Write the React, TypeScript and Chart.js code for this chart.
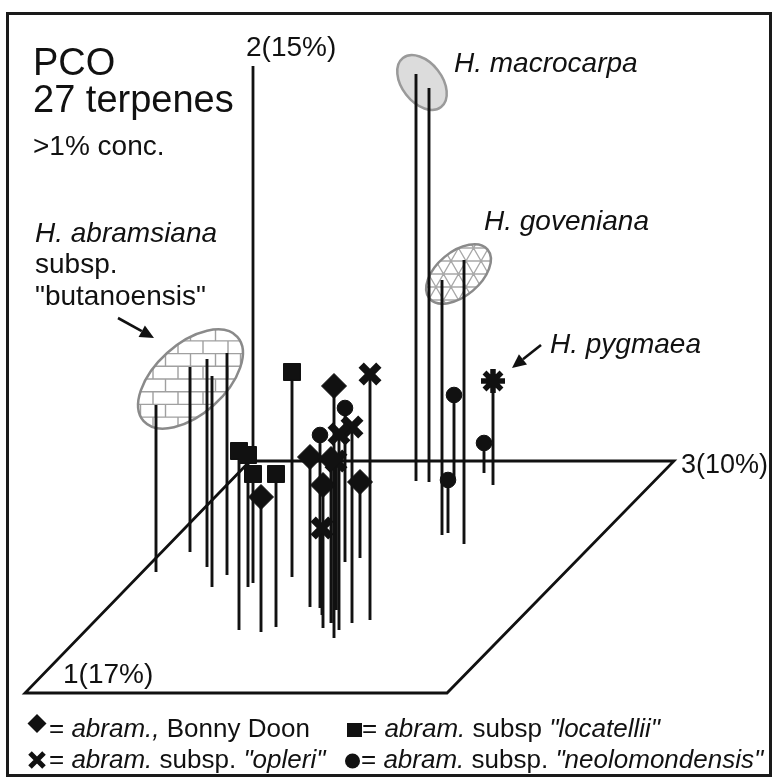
import React, { useEffect, useRef } from 'react';
import { Chart, registerables } from 'chart.js';

Chart.register(...registerables);

const W = 773;
const H = 777;

// Specimens in the projected PCO space: [x, top (marker height), floor]
const bonnyDoon: number[][] = [
  [261, 497, 632],
  [310, 457, 607],
  [331, 459, 623],
  [323, 485, 628],
  [334, 386, 638],
  [360, 482, 558],
];
const locatellii: number[][] = [
  [239, 451, 630],
  [248, 455, 587],
  [253, 474, 583],
  [276, 474, 627],
  [292, 372, 577],
];
const opleri: number[][] = [
  [370, 374, 620],
  [352, 427, 623],
  [339, 434, 630],
  [336, 461, 610],
  [322, 528, 615],
];
const neolomondensis: number[][] = [
  [320, 435, 608],
  [345, 408, 562],
  [448, 480, 533],
  [454, 395, 477],
  [484, 443, 473],
];
const pygmaea: number[][] = [[493, 381, 485]];
const butanoensis: number[][] = [
  [156, 405, 572],
  [190, 367, 552],
  [207, 359, 567],
  [212, 376, 587],
  [227, 353, 575],
];
const macrocarpa: number[][] = [
  [416, 74, 481],
  [429, 88, 482],
];
const goveniana: number[][] = [
  [442, 280, 535],
  [464, 260, 544],
];

// floor plane (axes 1 and 3) and vertical axis 2
const planeCorners: number[][] = [
  [250, 461],
  [674, 461],
  [447, 693],
  [25, 693],
  [250, 461],
];
const axis2: number[][] = [
  [253, 66],
  [253, 461],
];

// species cluster outlines: [cx, cy, rx, ry, rotationDeg]
const ellipseButanoensis = [190.5, 379, 63, 35, -42];
const ellipseGoveniana = [458.5, 274, 38, 22, -40];
const ellipseMacrocarpa = [422, 82.5, 31, 20, 52];

const FONT = '"Liberation Sans", Arial, Helvetica, sans-serif';

function stemData(arr: number[][]) {
  const out: any[] = [];
  for (const [x, top, base] of arr) {
    out.push({ x, y: top }, { x, y: base }, { x, y: null });
  }
  return out;
}
function markerData(arr: number[][]) {
  return arr.map(([x, top]) => ({ x, y: top }));
}

type Run = [string, boolean];

function drawRuns(ctx: CanvasRenderingContext2D, x: number, y: number, size: number, runs: Run[]) {
  let cx = x;
  for (const [t, it] of runs) {
    ctx.font = `${it ? 'italic ' : ''}${size}px ${FONT}`;
    ctx.fillText(t, cx, y);
    cx += ctx.measureText(t).width;
  }
}

function arrow(ctx: CanvasRenderingContext2D, x1: number, y1: number, x2: number, y2: number) {
  const ang = Math.atan2(y2 - y1, x2 - x1);
  const hl = 14;
  const hw = 6.5;
  const bx = x2 - hl * Math.cos(ang);
  const by = y2 - hl * Math.sin(ang);
  ctx.beginPath();
  ctx.moveTo(x1, y1);
  ctx.lineTo(bx, by);
  ctx.lineWidth = 2.6;
  ctx.strokeStyle = '#111';
  ctx.stroke();
  ctx.beginPath();
  ctx.moveTo(x2, y2);
  ctx.lineTo(bx + hw * Math.sin(ang), by - hw * Math.cos(ang));
  ctx.lineTo(bx - hw * Math.sin(ang), by + hw * Math.cos(ang));
  ctx.closePath();
  ctx.fillStyle = '#111';
  ctx.fill();
}

const figurePlugin = {
  id: 'figure',
  beforeDatasetsDraw(chart: any) {
    const ctx: CanvasRenderingContext2D = chart.ctx;
    const xs = chart.scales.x;
    const ys = chart.scales.y;
    const px = (v: number) => xs.getPixelForValue(v);
    const py = (v: number) => ys.getPixelForValue(v);
    const sx = (v: number) => px(v) - px(0);
    const sy = (v: number) => py(v) - py(0);

    const ellipsePath = (e: number[]) => {
      ctx.beginPath();
      ctx.ellipse(px(e[0]), py(e[1]), Math.abs(sx(e[2])), Math.abs(sy(e[3])), (e[4] * Math.PI) / 180, 0, Math.PI * 2);
    };

    // macrocarpa: plain grey fill
    ctx.save();
    ellipsePath(ellipseMacrocarpa);
    ctx.fillStyle = '#dcdcdc';
    ctx.fill();
    ctx.lineWidth = 2.5;
    ctx.strokeStyle = '#9a9a9a';
    ctx.stroke();
    ctx.restore();

    // butanoensis: brick fill
    ctx.save();
    ellipsePath(ellipseButanoensis);
    ctx.fillStyle = '#fff';
    ctx.fill();
    ctx.clip();
    {
      const cx = px(ellipseButanoensis[0]);
      const cy = py(ellipseButanoensis[1]);
      ctx.strokeStyle = '#a0a0a0';
      ctx.lineWidth = 1.4;
      const bh = 12.7;
      const bw = 25;
      ctx.beginPath();
      for (let r = -6; r <= 6; r++) {
        const y0 = cy + r * bh;
        ctx.moveTo(cx - 80, y0);
        ctx.lineTo(cx + 80, y0);
        const off = (r & 1) ? bw / 2 : 0;
        for (let k = -5; k <= 5; k++) {
          const xv = cx + k * bw + off;
          ctx.moveTo(xv, y0);
          ctx.lineTo(xv, y0 + bh);
        }
      }
      ctx.stroke();
    }
    ctx.restore();
    ctx.save();
    ellipsePath(ellipseButanoensis);
    ctx.lineWidth = 2.5;
    ctx.strokeStyle = '#8a8a8a';
    ctx.stroke();
    ctx.restore();

    // goveniana: mesh fill
    ctx.save();
    ellipsePath(ellipseGoveniana);
    ctx.fillStyle = '#fff';
    ctx.fill();
    ctx.clip();
    {
      const cx = px(ellipseGoveniana[0]);
      const cy = py(ellipseGoveniana[1]);
      ctx.strokeStyle = '#a8a8a8';
      ctx.lineWidth = 1.3;
      const sp = 13;
      ctx.beginPath();
      for (const a of [0, 60, 120]) {
        const r = (a * Math.PI) / 180;
        const dx = Math.cos(r);
        const dy = Math.sin(r);
        for (let k = -6; k <= 6; k++) {
          const ox = cx - dy * k * sp;
          const oy = cy + dx * k * sp;
          ctx.moveTo(ox - dx * 80, oy - dy * 80);
          ctx.lineTo(ox + dx * 80, oy + dy * 80);
        }
      }
      ctx.stroke();
    }
    ctx.restore();
    ctx.save();
    ellipsePath(ellipseGoveniana);
    ctx.lineWidth = 2.5;
    ctx.strokeStyle = '#8a8a8a';
    ctx.stroke();
    ctx.restore();
  },
  afterDatasetsDraw(chart: any) {
    const ctx: CanvasRenderingContext2D = chart.ctx;
    ctx.save();
    ctx.fillStyle = '#111';
    ctx.textBaseline = 'alphabetic';
    ctx.textAlign = 'left';

    drawRuns(ctx, 33, 75, 38, [['PCO', false]]);
    drawRuns(ctx, 33, 112, 38, [['27 terpenes', false]]);
    drawRuns(ctx, 33, 155, 28, [['>1% conc.', false]]);

    drawRuns(ctx, 246, 56, 28, [['2(15%)', false]]);
    drawRuns(ctx, 681, 473, 27, [['3(10%)', false]]);
    drawRuns(ctx, 63, 683, 28, [['1(17%)', false]]);

    drawRuns(ctx, 35, 242, 28, [['H. abramsiana', true]]);
    drawRuns(ctx, 35, 273, 28, [['subsp.', false]]);
    drawRuns(ctx, 35, 305, 28, [['"butanoensis"', false]]);
    drawRuns(ctx, 454, 72, 28, [['H. macrocarpa', true]]);
    drawRuns(ctx, 484, 230, 28, [['H. goveniana', true]]);
    drawRuns(ctx, 550, 353, 28, [['H. pygmaea', true]]);

    arrow(ctx, 118, 318, 154, 338);
    arrow(ctx, 541, 345, 512, 368);

    // legend
    const LS = 26;
    ctx.fillStyle = '#111';
    // diamond
    ctx.beginPath();
    ctx.moveTo(37, 714);
    ctx.lineTo(46.5, 723.5);
    ctx.lineTo(37, 733);
    ctx.lineTo(27.5, 723.5);
    ctx.closePath();
    ctx.fill();
    drawRuns(ctx, 49, 737, LS, [['= ', false], ['abram.,', true], [' Bonny Doon', false]]);
    // square
    ctx.fillRect(347, 723, 15, 14);
    drawRuns(ctx, 362, 737, LS, [['= ', false], ['abram.', true], [' subsp ', false], ['"locatellii"', true]]);
    // X
    ctx.save();
    ctx.strokeStyle = '#111';
    ctx.lineWidth = 5;
    ctx.beginPath();
    ctx.moveTo(30, 753);
    ctx.lineTo(44, 767);
    ctx.moveTo(44, 753);
    ctx.lineTo(30, 767);
    ctx.stroke();
    ctx.restore();
    drawRuns(ctx, 49, 768, LS, [['= ', false], ['abram.', true], [' subsp. ', false], ['"opleri"', true]]);
    // circle
    ctx.beginPath();
    ctx.arc(352.5, 761, 7.5, 0, Math.PI * 2);
    ctx.fill();
    drawRuns(ctx, 361, 768, LS, [['= ', false], ['abram.', true], [' subsp. ', false], ['"neolomondensis"', true]]);

    ctx.restore();
  },
  afterDraw(chart: any) {
    const ctx: CanvasRenderingContext2D = chart.ctx;
    ctx.save();
    ctx.strokeStyle = '#1a1a1a';
    ctx.lineWidth = 3;
    ctx.strokeRect(7.5, 13.5, 763, 762);
    ctx.restore();
  },
};

export default function App() {
  const ref = useRef<HTMLCanvasElement | null>(null);

  useEffect(() => {
    if (!ref.current) return;
    const lineBase = {
      type: 'line' as const,
      borderColor: '#111',
      borderWidth: 2.9,
      pointRadius: 0,
      fill: false,
      spanGaps: false,
      tension: 0,
    };
    const markerBase = {
      type: 'scatter' as const,
      borderColor: '#111',
      backgroundColor: '#111',
      order: 0,
    };
    const datasets: any[] = [
      { ...markerBase, label: 'abram., Bonny Doon', data: markerData(bonnyDoon), pointStyle: 'rectRot', pointRadius: 12.5, pointBorderWidth: 1 },
      { ...markerBase, label: 'abram. subsp "locatellii"', data: markerData(locatellii), pointStyle: 'rect', pointRadius: 12, pointBorderWidth: 1 },
      { ...markerBase, label: 'abram. subsp. "opleri"', data: markerData(opleri), pointStyle: 'crossRot', pointRadius: 12.5, pointBorderWidth: 7.5 },
      { ...markerBase, label: 'abram. subsp. "neolomondensis"', data: markerData(neolomondensis), pointStyle: 'circle', pointRadius: 7.8, pointBorderWidth: 1 },
      { ...markerBase, label: 'H. pygmaea', data: markerData(pygmaea), pointStyle: 'star', pointRadius: 12, pointBorderWidth: 5.5 },
      { ...lineBase, order: 1, label: 'stems BD', data: stemData(bonnyDoon) },
      { ...lineBase, order: 1, label: 'stems loc', data: stemData(locatellii) },
      { ...lineBase, order: 1, label: 'stems opl', data: stemData(opleri) },
      { ...lineBase, order: 1, label: 'stems neo', data: stemData(neolomondensis) },
      { ...lineBase, order: 1, label: 'stems pyg', data: stemData(pygmaea) },
      { ...lineBase, order: 1, label: 'stems but', data: stemData(butanoensis) },
      { ...lineBase, order: 1, label: 'stems mac', data: stemData(macrocarpa) },
      { ...lineBase, order: 1, label: 'stems gov', data: stemData(goveniana) },
      { ...lineBase, order: 2, label: 'plane', borderWidth: 2.8, data: planeCorners.map(([x, y]) => ({ x, y })) },
      { ...lineBase, order: 2, label: 'axis 2', borderWidth: 2.8, data: axis2.map(([x, y]) => ({ x, y })) },
    ];

    const chart = new Chart(ref.current, {
      type: 'scatter',
      data: { datasets },
      options: {
        animation: false,
        responsive: false,
        maintainAspectRatio: false,
        events: [],
        layout: { padding: 0, autoPadding: false },
        plugins: {
          legend: { display: false },
          tooltip: { enabled: false },
        },
        scales: {
          x: { type: 'linear', min: 0, max: W, display: false },
          y: { type: 'linear', min: 0, max: H, reverse: true, display: false },
        },
      },
      plugins: [figurePlugin],
    } as any);

    return () => chart.destroy();
  }, []);

  return (
    <div style={{ position: 'fixed', left: 0, top: 0, width: W, height: H, background: '#fff' }}>
      <canvas ref={ref} width={W} height={H} style={{ display: 'block', width: W, height: H }} />
    </div>
  );
}
